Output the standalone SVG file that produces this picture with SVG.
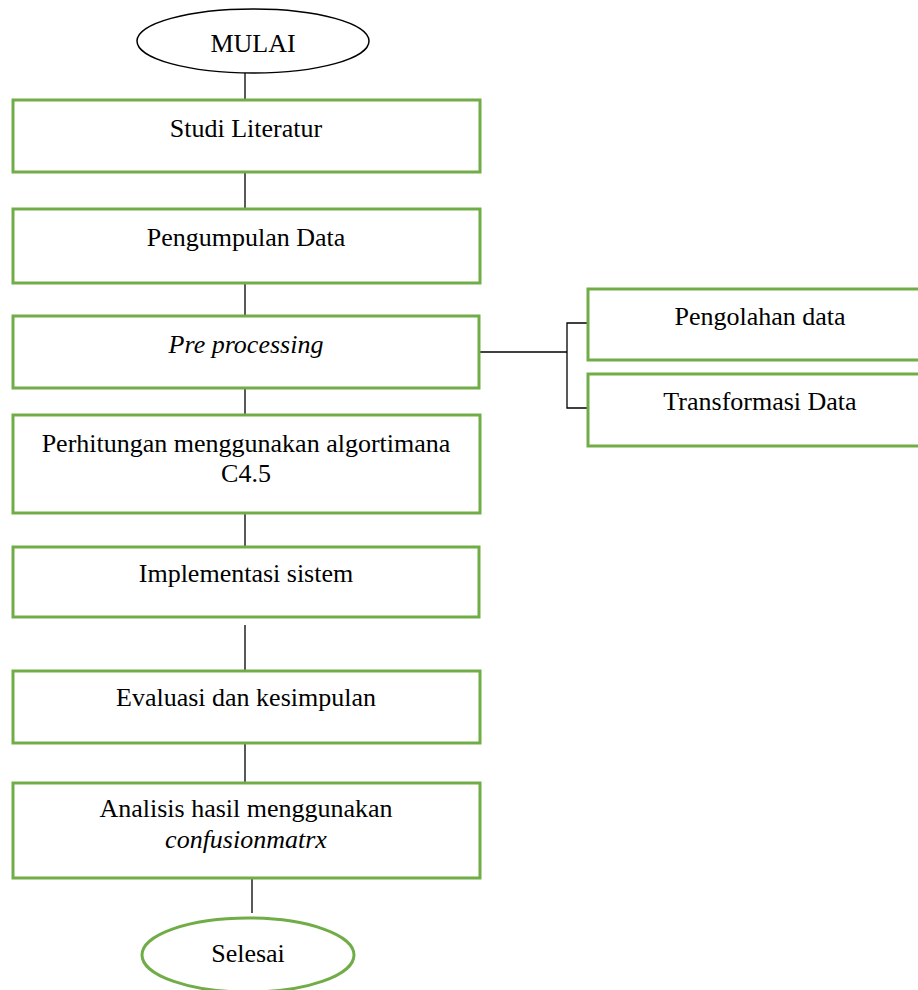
<svg xmlns="http://www.w3.org/2000/svg" width="918" height="990" viewBox="0 0 918 990">
<style>
.box{fill:#fff;stroke:#70AD47;stroke-width:3}
.term{fill:#fff;stroke:#000;stroke-width:1.5}
.termg{fill:#fff;stroke:#70AD47;stroke-width:3}
.t{font-family:"Liberation Serif","Times New Roman",serif;font-size:26px;fill:#000;text-anchor:middle}
.i{font-style:italic}
.c{stroke:#000;stroke-width:1.3;fill:none}
</style>
<rect width="918" height="990" fill="#fff"/>
<g id="connectors">
<line class="c" x1="245" y1="73" x2="245" y2="100"/>
<line class="c" x1="245" y1="172" x2="245" y2="209"/>
<line class="c" x1="245" y1="283" x2="245" y2="316"/>
<line class="c" x1="245" y1="388" x2="245" y2="415"/>
<line class="c" x1="245" y1="513" x2="245" y2="547"/>
<line class="c" x1="245" y1="625" x2="245" y2="671"/>
<line class="c" x1="245" y1="743" x2="245" y2="783"/>
<line class="c" x1="252" y1="878" x2="252" y2="913"/>
<line class="c" x1="479" y1="352" x2="567" y2="352"/>
<path class="c" d="M588 323 H567 V408 H588"/>
</g>
<g id="mulai">
<ellipse class="term" cx="253" cy="41" rx="116" ry="32"/>
<text class="t" x="253" y="52">MULAI</text>
</g>
<g id="studi">
<rect class="box" x="13" y="100" width="467" height="72"/>
<text class="t" x="246" y="137">Studi Literatur</text>
</g>
<g id="pengumpulan">
<rect class="box" x="13" y="209" width="467" height="74"/>
<text class="t" x="246" y="246">Pengumpulan Data</text>
</g>
<g id="preprocessing">
<rect class="box" x="13" y="316" width="466" height="72"/>
<text class="t i" x="246" y="353">Pre processing</text>
</g>
<g id="pengolahan">
<rect class="box" x="588" y="289" width="345" height="71"/>
<text class="t" x="760" y="325">Pengolahan data</text>
</g>
<g id="transformasi">
<rect class="box" x="588" y="374" width="345" height="72"/>
<text class="t" x="760" y="410">Transformasi Data</text>
</g>
<g id="perhitungan">
<rect class="box" x="13" y="415" width="467" height="98"/>
<text class="t" x="246" y="452">Perhitungan menggunakan algortimana</text>
<text class="t" x="246" y="482">C4.5</text>
</g>
<g id="implementasi">
<rect class="box" x="13" y="547" width="466" height="70"/>
<text class="t" x="246" y="582">Implementasi sistem</text>
</g>
<g id="evaluasi">
<rect class="box" x="13" y="671" width="467" height="72"/>
<text class="t" x="246" y="706">Evaluasi dan kesimpulan</text>
</g>
<g id="analisis">
<rect class="box" x="13" y="783" width="467" height="95"/>
<text class="t" x="246" y="817">Analisis hasil menggunakan</text>
<text class="t i" x="246" y="848">confusionmatrx</text>
</g>
<g id="selesai">
<ellipse class="termg" cx="248" cy="955" rx="106" ry="37"/>
<text class="t" x="248" y="962">Selesai</text>
</g>
</svg>
